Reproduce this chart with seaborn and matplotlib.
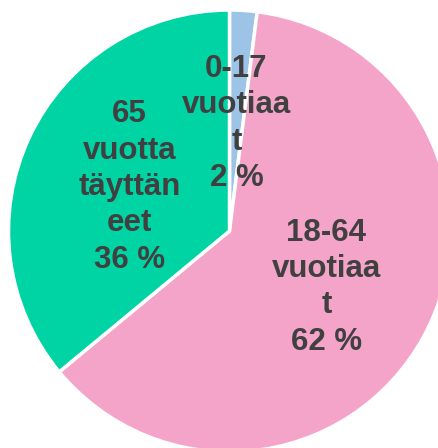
import matplotlib
matplotlib.use("Agg")
import matplotlib.pyplot as plt
import matplotlib.transforms as mtransforms
import seaborn as sns
import numpy as np

sns.set_theme(style="white")
plt.rcParams['font.family'] = ['Liberation Sans', 'DejaVu Sans']

labels = ["0-17\nvuotiaa\nt\n2 %", "18-64\nvuotiaa\nt\n62 %", "65\nvuotta\ntäyttän\neet\n36 %"]
values = [2, 62, 36]
colors = ["#9DC3E6", "#F4A4C8", "#00D4A5"]

W, H = 439, 448
fig = plt.figure(figsize=(W / 100, H / 100), dpi=100)
cx, cy, r = 229.5, 231, 221
ax = fig.add_axes([(cx - r) / W, (H - cy - r) / H, 2 * r / W, 2 * r / H])
wedges, texts = ax.pie(values, labels=labels, colors=colors, startangle=90,
                       counterclock=False, labeldistance=0.5,
                       wedgeprops=dict(edgecolor="white", linewidth=2.5),
                       textprops=dict(fontsize=22.5, fontweight="bold", color="#404040",
                                      linespacing=1.28))
for t in texts:
    t.set_ha("center")
    t.set_va("center")
    t.set_transform(mtransforms.offset_copy(ax.transData, fig=fig, x=0, y=-3, units="dots"))
ax.set_xlim(-1, 1)
ax.set_ylim(-1, 1)
ax.set_aspect("auto")
ax.axis("off")
for w in wedges:
    w.set_clip_on(False)
fig.savefig("out.png", dpi=100)
